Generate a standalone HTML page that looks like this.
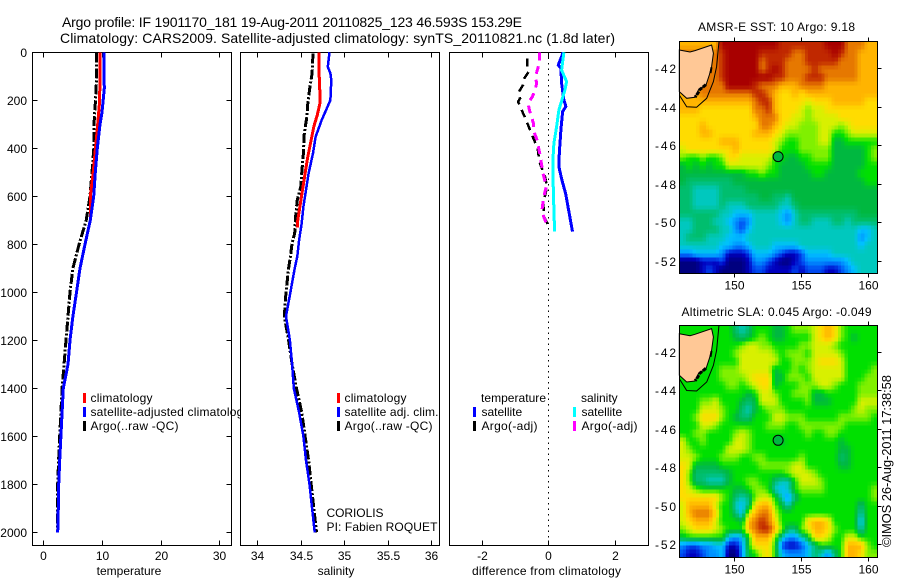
<!DOCTYPE html>
<html>
<head>
<meta charset="utf-8">
<title>Argo profile</title>
<style>
html,body{margin:0;padding:0;background:#fff;}
svg{display:block;}
text{font-family:"Liberation Sans",sans-serif;font-size:12px;fill:#000;}
.ttl{font-size:14px;}
.frame{fill:#fff;stroke:#000;stroke-width:1;shape-rendering:crispEdges;}
.noFill{fill:none;stroke:#000;stroke-width:1.2;shape-rendering:crispEdges;}
</style>
</head>
<body>
<svg id="chart" xmlns="http://www.w3.org/2000/svg" width="900" height="580" viewBox="0 0 900 580">
<defs>
<clipPath id="clipSst"><rect x="679.5" y="41.5" width="198" height="232"/></clipPath>
<clipPath id="clipSla"><rect x="679.5" y="325.5" width="198" height="232"/></clipPath>
</defs>
<text class="ttl" x="62" y="27" textLength="460">Argo profile: IF 1901170_181 19-Aug-2011 20110825_123 46.593S 153.29E</text>
<text class="ttl" x="60" y="43" textLength="555">Climatology: CARS2009. Satellite-adjusted climatology: synTS_20110821.nc (1.8d later)</text>

<g id="p1">
<rect class="frame" x="32.5" y="52.5" width="199" height="493"/>
<g id="p1marks"></g>
<rect x="83" y="393" width="3" height="10" fill="#ff0000"/>
<rect x="83" y="407" width="3" height="10" fill="#0000ff"/>
<rect x="83" y="421" width="3" height="10" fill="#000"/>
<text x="90.5" y="402" textLength="62">climatology</text>
<text x="90.5" y="416" textLength="159">satellite-adjusted climatology</text>
<text x="90.5" y="430" textLength="88">Argo(..raw -QC)</text>
<text x="129" y="575" text-anchor="middle">temperature</text>
</g>

<g id="p2">
<rect class="frame" x="240.5" y="52.5" width="199" height="493"/>
<g id="p2marks"></g>
<rect x="337" y="393" width="3" height="10" fill="#ff0000"/>
<rect x="337" y="407" width="3" height="10" fill="#0000ff"/>
<rect x="337" y="421" width="3" height="10" fill="#000"/>
<text x="344.5" y="402" textLength="62">climatology</text>
<text x="344.5" y="416" textLength="94">satellite adj. clim.</text>
<text x="344.5" y="430" textLength="88">Argo(..raw -QC)</text>
<text x="326.5" y="517" textLength="57">CORIOLIS</text>
<text x="326.5" y="531" textLength="111">PI: Fabien ROQUET</text>
<text x="336" y="575" text-anchor="middle">salinity</text>
</g>

<g id="p3">
<rect class="frame" x="449.5" y="52.5" width="199" height="493"/>
<g id="p3marks"></g>
<text x="481" y="402" textLength="65">temperature</text>
<text x="581" y="402">salinity</text>
<rect x="473" y="407" width="3" height="10" fill="#0000ff"/>
<rect x="473" y="421" width="3" height="10" fill="#000"/>
<rect x="573" y="407" width="3" height="10" fill="#00ffff"/>
<rect x="573" y="421" width="3" height="10" fill="#ff00ff"/>
<text x="481.5" y="416">satellite</text>
<text x="481.5" y="430" textLength="56">Argo(-adj)</text>
<text x="581.5" y="416">satellite</text>
<text x="581.5" y="430" textLength="56">Argo(-adj)</text>
<text x="472" y="575" textLength="149">difference from climatology</text>
</g>

<text x="698" y="31" textLength="157">AMSR-E SST: 10 Argo: 9.18</text>
<g id="m1"></g>
<text x="681.5" y="316" textLength="190">Altimetric SLA: 0.045 Argo: -0.049</text>
<g id="m2"></g>
<text transform="translate(891,547) rotate(-90)" textLength="172" style="font-size:13px">©IMOS 26-Aug-2011 17:38:58</text>
</svg>

<script>
// ---------- profile data ----------
const tempTicks = [0, 10, 20, 30];
const salTicks = [34, 34.5, 35, 35.5, 36];
const salTickLabels = ['34', '34.5', '35', '35.5', '36'];
const diffTicks = [-2, 0, 2];
const depthTicks = [0, 200, 400, 600, 800, 1000, 1200, 1400, 1600, 1800, 2000];

const tempClimDepth = [0, 200, 300, 400, 500, 600, 700, 800, 900, 1000, 1100, 1200, 1300, 1400];
const tempClimValue = [9.66, 9.6, 9.27, 8.9, 8.5, 8.0, 8.0, 7.1, 6.25, 5.65, 5.05, 4.55, 4.2, 3.4];
const tempSatDepth = [0, 150, 250, 300, 400, 500, 600, 700, 800, 900, 1000, 1100, 1200, 1300, 1400, 1500, 1600, 1700, 1800, 1900, 2000];
const tempSatValue = [10.3, 10.4, 10.0, 9.66, 9.2, 8.86, 8.58, 8.0, 7.1, 6.25, 5.65, 5.05, 4.55, 4.2, 3.4, 3.2, 3.0, 2.8, 2.62, 2.55, 2.45];
const tempArgoDepth = [0, 100, 200, 300, 400, 500, 600, 700, 800, 900, 1000, 1100, 1200, 1400, 1500, 1600, 1700, 1800, 1900, 2000];
const tempArgoValue = [9.1, 9.1, 8.9, 8.64, 8.6, 8.3, 7.96, 7.3, 6.1, 5.05, 4.55, 4.2, 3.87, 3.2, 3.0, 2.8, 2.6, 2.45, 2.4, 2.4];

const salClimDepth = [0, 88, 171, 213, 261, 310, 365, 435, 504, 574, 643, 712, 730];
const salClimValue = [34.71, 34.71, 34.72, 34.72, 34.69, 34.65, 34.62, 34.58, 34.55, 34.52, 34.49, 34.46, 34.46];
const salSatDepth = [0, 60, 88, 116, 199, 233, 282, 352, 421, 504, 574, 643, 712, 782, 851, 900, 1000, 1100, 1200, 1300, 1400, 1500, 1600, 1700, 1800, 1900, 2000];
const salSatValue = [34.83, 34.81, 34.84, 34.85, 34.84, 34.8, 34.74, 34.67, 34.64, 34.59, 34.56, 34.53, 34.51, 34.48, 34.46, 34.43, 34.38, 34.33, 34.375, 34.4, 34.42, 34.48, 34.53, 34.56, 34.6, 34.63, 34.66];
const salArgoDepth = [5, 88, 157, 213, 268, 337, 421, 504, 560, 615, 685, 754, 795, 851, 900, 1000, 1100, 1200, 1300, 1400, 1500, 1600, 1700, 1800, 1900, 2000];
const salArgoValue = [34.64, 34.63, 34.6, 34.58, 34.57, 34.54, 34.53, 34.51, 34.5, 34.46, 34.44, 34.43, 34.4, 34.38, 34.36, 34.33, 34.31, 34.36, 34.4, 34.45, 34.51, 34.55, 34.59, 34.62, 34.65, 34.68];

const diffTempSatDepth = [0, 53, 67, 129, 199, 226, 247, 324, 421, 477, 532, 588, 671, 747];
const diffTempSatValue = [0.45, 0.3, 0.38, 0.4, 0.47, 0.53, 0.43, 0.38, 0.33, 0.32, 0.41, 0.52, 0.63, 0.73];
const diffSalSatDepth = [0, 74, 122, 157, 199, 240, 310, 379, 449, 574, 747];
const diffSalSatValue = [0.47, 0.4, 0.55, 0.5, 0.41, 0.32, 0.25, 0.17, 0.14, 0.15, 0.19];
const diffTempArgoDepth = [25, 60, 81, 108, 136, 168, 192, 206, 226, 282, 345, 400, 455, 518, 560, 629, 685, 727];
const diffTempArgoValue = [-0.63, -0.63, -0.59, -0.72, -0.76, -0.9, -0.85, -0.91, -0.85, -0.67, -0.49, -0.32, -0.27, -0.1, -0.04, -0.15, -0.13, 0.02];
const diffSalArgoDepth = [0, 46, 74, 102, 129, 157, 185, 213, 240, 296, 331, 365, 421, 504, 560, 602, 657, 685, 727];
const diffSalArgoValue = [-0.27, -0.27, -0.33, -0.39, -0.35, -0.4, -0.48, -0.61, -0.57, -0.45, -0.43, -0.34, -0.26, -0.16, -0.06, -0.14, -0.19, -0.14, -0.02];

// ---------- map data ----------
const mapLonTicks = [150, 155, 160];
const mapLatTicks = [-42, -44, -46, -48, -50, -52];
const floatLon = 153.29;
const floatLat = -46.593;
const colourLevels = [[0,0,127],[0,0,191],[0,72,240],[0,144,255],[0,192,255],[0,200,190],[0,190,110],[0,184,64],[0,224,0],[128,240,0],[216,240,0],[255,220,0],[255,180,0],[230,120,0],[192,40,0],[168,0,0]];
const landLon = [145.92,146.72,147.09,148.33,148.46,148.33,148.16,147.91,147.34,147.09,146.47,145.92];
const landLat = [-41.05,-41.15,-41.08,-40.79,-41.22,-41.91,-42.35,-42.87,-43.13,-43.51,-43.56,-43.21];
const contourLon = [148.88,148.7,148.46,147.96,147.21,146.47,145.92];
const contourLat = [-40.6,-41.91,-42.69,-43.56,-44.03,-44.0,-43.39];
const shoreLon = [147.9,147.65,147.45,147.3,147.1];
const shoreLat = [-42.85,-43.0,-43.1,-43.3,-43.5];
const eastCapeLon = [148.32,148.25];
const eastCapeLat = [-41.95,-42.25];

const sstGrid = [
[12,12,12,12,12,12,15,15,15,15,15,15,15,15,15,14,14,14,14,14,14,14,15,15,15,13,13,13,12,12],
[13,13,13,13,13,13,14,15,15,15,15,15,14,14,14,14,14,13,13,14,14,14,14,15,14,13,13,12,12,12],
[13,13,13,13,13,13,14,15,15,15,15,15,13,14,14,14,13,13,13,14,14,14,14,14,13,13,13,12,12,12],
[13,13,13,13,13,13,14,15,15,15,15,15,13,14,15,14,13,13,13,13,14,13,13,13,13,13,13,12,12,12],
[13,13,13,13,13,13,14,15,15,15,15,15,15,15,14,14,13,13,13,14,14,14,13,13,13,13,13,12,12,12],
[13,13,13,13,13,13,13,15,15,15,15,14,13,13,13,12,12,12,13,13,13,13,12,12,12,12,12,12,12,12],
[12,12,12,13,13,13,13,13,13,13,13,14,14,13,12,11,11,12,11,12,12,12,12,12,12,12,12,12,12,12],
[12,12,12,12,12,12,12,12,12,12,12,13,14,14,12,11,11,11,11,10,11,11,11,12,12,12,12,12,11,11],
[12,12,12,11,11,11,11,11,11,11,11,13,13,14,12,11,11,11,10,9,10,10,11,11,11,11,11,11,11,11],
[11,11,11,11,11,11,11,11,11,11,11,12,13,13,13,11,11,10,10,9,10,10,10,10,11,11,11,11,11,11],
[11,11,11,12,11,11,11,11,11,11,11,11,13,13,12,11,10,10,9,9,9,10,10,10,9,10,11,11,11,11],
[11,11,11,12,12,11,11,11,11,11,11,12,12,12,11,10,9,9,9,9,9,10,10,8,8,9,10,10,10,10],
[11,11,11,11,11,11,12,12,12,11,11,11,11,11,10,9,8,8,9,9,9,10,10,7,7,8,8,8,8,8],
[10,11,11,11,11,11,11,11,12,11,11,11,11,11,10,8,8,8,9,9,9,9,9,7,7,7,7,7,8,9],
[9,8,8,9,8,8,9,11,11,10,10,10,10,10,8,8,7,7,8,8,9,9,9,7,7,7,7,7,8,9],
[7,8,7,8,7,8,8,10,10,10,10,10,10,9,8,7,7,7,7,8,8,8,8,7,7,7,7,7,8,8],
[7,7,7,7,7,7,7,7,7,7,8,8,9,8,8,7,7,7,7,7,8,8,7,7,7,7,7,8,8,8],
[7,6,6,6,6,6,6,6,7,7,7,7,7,7,7,7,7,7,7,7,7,7,7,7,7,7,7,7,8,8],
[6,6,5,5,5,5,6,6,6,6,7,7,7,7,7,7,7,7,7,7,7,7,7,7,7,7,7,7,7,7],
[6,6,5,5,5,5,6,6,6,6,6,6,7,7,6,6,5,7,7,7,7,7,7,7,7,7,7,7,7,7],
[6,6,5,5,5,5,6,5,5,5,6,6,6,6,6,5,5,6,7,7,7,7,7,7,7,7,7,7,7,7],
[6,6,6,6,6,6,5,5,4,4,4,5,5,5,5,4,3,5,6,6,6,6,6,6,6,6,6,7,7,7],
[5,5,6,6,6,5,5,4,3,2,3,5,5,5,5,4,3,5,6,6,5,5,5,6,6,5,6,6,6,6],
[5,5,6,6,6,6,5,5,3,2,4,5,5,5,5,5,5,5,5,5,5,5,5,5,5,5,5,4,4,5],
[5,6,6,6,5,5,5,4,4,4,5,5,5,5,5,5,5,5,5,5,5,5,5,5,5,5,5,3,4,5],
[5,5,5,5,5,5,4,4,3,3,4,5,5,5,4,4,4,4,5,5,5,5,5,5,5,5,5,4,5,5],
[3,3,4,4,4,4,3,1,1,1,2,4,4,4,3,2,1,1,2,4,4,4,4,5,5,5,5,5,5,5],
[0,0,0,1,1,1,2,0,0,0,1,3,3,2,1,0,0,1,2,3,3,3,3,3,3,4,5,5,5,5],
[0,0,0,1,2,1,0,0,0,0,1,2,2,1,1,1,1,2,1,2,2,2,1,1,2,3,4,5,5,5]
];

const slaGrid = [
[8,8,8,8,8,8,8,8,6,5,6,8,8,8,7,7,8,9,9,9,10,11,12,11,9,8,8,8,8,8],
[8,8,8,8,8,8,8,8,7,6,7,8,9,8,7,7,8,8,8,8,10,11,12,11,9,8,7,8,8,8],
[8,8,8,8,8,8,8,8,8,9,10,10,9,9,8,8,8,8,9,9,10,10,10,9,8,8,8,8,8,8],
[8,8,8,8,8,8,8,8,9,10,10,10,10,10,9,8,9,9,9,8,10,10,10,10,9,8,8,8,8,8],
[8,8,8,8,8,8,8,8,8,10,10,10,10,10,10,8,8,9,9,9,10,11,11,11,10,8,8,8,8,8],
[8,8,8,8,8,8,9,9,9,10,10,10,10,10,7,8,8,9,8,9,10,10,10,10,10,8,8,8,8,9],
[8,8,8,8,8,8,9,9,9,9,10,11,11,11,7,7,9,9,9,8,10,10,10,10,10,8,8,8,9,9],
[8,8,8,8,8,8,8,9,9,8,9,10,11,11,7,8,8,8,9,9,9,10,10,9,8,8,8,9,9,9],
[8,8,8,8,8,8,8,8,8,8,7,8,10,10,9,8,8,9,9,9,7,7,8,8,8,8,8,9,9,9],
[8,8,8,9,9,10,8,8,8,7,6,7,10,10,10,8,8,8,8,9,7,7,7,8,8,8,8,10,10,10],
[8,8,8,10,10,10,9,8,8,6,5,7,8,9,9,9,8,8,8,8,8,8,8,8,8,8,9,10,9,9],
[8,8,9,11,11,11,9,8,7,6,6,8,8,8,10,10,9,9,9,8,8,8,8,8,9,9,9,9,9,8],
[8,8,8,10,10,9,8,8,8,8,8,8,8,9,9,9,8,8,9,9,9,9,9,9,9,8,8,8,8,8],
[8,8,9,9,8,8,8,8,9,10,9,8,8,8,8,8,8,8,8,9,8,8,9,9,8,8,8,8,8,8],
[10,8,8,9,8,8,8,8,10,10,9,8,8,8,8,7,8,8,8,8,8,8,8,8,7,8,8,8,8,8],
[10,9,8,8,8,8,8,10,10,10,9,8,8,8,8,8,8,8,8,8,8,8,8,8,7,7,8,8,8,8],
[10,10,9,8,8,8,9,9,9,8,8,9,9,8,8,8,8,8,9,8,8,8,8,8,6,7,8,8,8,8],
[11,10,7,7,7,7,8,8,8,8,8,8,9,9,9,9,9,10,10,8,8,8,8,8,7,7,8,8,8,8],
[11,9,6,6,6,6,6,7,8,8,8,8,8,8,8,8,9,10,10,10,9,8,8,8,8,8,8,8,8,8],
[11,9,6,6,5,5,5,7,8,8,9,9,8,8,6,5,5,8,10,10,10,9,8,8,8,8,8,8,8,8],
[11,10,9,8,8,8,8,8,7,7,8,9,9,8,5,4,5,8,9,9,9,9,8,8,8,8,8,8,8,9],
[11,11,11,11,11,11,9,8,6,5,6,9,10,10,8,5,3,6,8,8,8,8,8,8,8,8,8,8,8,9],
[10,12,12,12,12,10,8,8,5,4,6,11,12,12,9,7,5,8,8,8,8,8,8,8,8,8,8,6,8,8],
[10,12,13,13,13,11,8,8,6,4,10,12,13,13,10,8,8,8,8,8,8,8,8,8,8,8,8,5,8,8],
[10,11,12,12,12,10,8,8,8,7,12,13,14,13,11,8,8,8,8,11,12,12,11,8,8,8,8,4,8,8],
[9,10,11,11,11,10,9,8,8,8,12,13,14,14,12,9,6,6,9,10,12,12,11,9,8,8,8,5,8,8],
[7,8,8,8,8,8,8,4,3,4,8,12,12,12,9,5,3,3,5,7,11,11,10,8,8,10,10,8,8,8],
[3,2,2,3,3,4,4,1,1,3,8,11,11,11,8,2,1,1,2,4,6,8,8,8,8,12,12,12,9,8],
[2,1,1,2,3,3,4,0,0,3,7,8,10,11,8,4,3,3,3,4,6,5,3,6,8,12,12,11,9,9]
];

// ---------- helpers ----------
const svgNS = 'http://www.w3.org/2000/svg';
const plotTop = 52.5;
const plotBottom = 545.5;
const yDepth = d => 52.3 + 0.24 * d;
const xTemp = v => 43.3 + 5.87 * v;
const xSal = v => 257.3 + 87 * (v - 34);
const xDiff = v => 548.3 + 33.2 * v;

function addTick(parent, x1, y1, x2, y2) {
  const el = document.createElementNS(svgNS, 'line');
  el.setAttribute('x1', x1);
  el.setAttribute('y1', y1);
  el.setAttribute('x2', x2);
  el.setAttribute('y2', y2);
  el.setAttribute('stroke', '#000');
  el.setAttribute('shape-rendering', 'crispEdges');
  
  
  parent.appendChild(el);
}
function addLabel(parent, x, y, anchor, str, name, len) {
  const el = document.createElementNS(svgNS, 'text');
  el.setAttribute('x', x);
  el.setAttribute('y', y);
  el.setAttribute('text-anchor', anchor);
  if (len) el.setAttribute('textLength', len);
  el.textContent = str;
  
  
  parent.appendChild(el);
}
function addCurve(parent, xs, ds, xFn, yFn, colour, width, dash, name) {
  const el = document.createElementNS(svgNS, 'polyline');
  el.setAttribute('points', xs.map((v, i) => xFn(v).toFixed(1) + ',' + yFn(ds[i]).toFixed(1)).join(' '));
  el.setAttribute('fill', 'none');
  el.setAttribute('stroke', colour);
  el.setAttribute('stroke-width', width);
  if (dash) el.setAttribute('stroke-dasharray', dash);
  el.setAttribute('shape-rendering', 'crispEdges');
  
  
  parent.appendChild(el);
}
function xAxis(parent, ticks, labels, xFn, top, bottom) {
  ticks.forEach((t, i) => {
    const x = Math.round(xFn(t)) + 0.5;
    addTick(parent, x, top, x, top + 5);
    addTick(parent, x, bottom, x, bottom - 5);
    addLabel(parent, x, bottom + 14.5, 'middle', labels[i], 'x-tick-label');
  });
}

// ---------- profile panels ----------
const p1 = document.getElementById('p1marks');
const p2 = document.getElementById('p2marks');
const p3 = document.getElementById('p3marks');

xAxis(p1, tempTicks, tempTicks.map(String), xTemp, plotTop, plotBottom);
depthTicks.forEach(d => {
  const y = Math.round(yDepth(d)) + 0.5;
  addTick(p1, 32.5, y, 37.5, y);
  addTick(p1, 231.5, y, 226.5, y);
  addLabel(p1, 27, y + 4.5, 'end', String(d), 'depth-tick-label');
});
addCurve(p1, tempArgoValue, tempArgoDepth, xTemp, yDepth, '#000', 3, '10 2 2 2', 'temperature-argo-line');
addCurve(p1, tempClimValue, tempClimDepth, xTemp, yDepth, '#ff0000', 3, '', 'temperature-climatology-line');
addCurve(p1, tempSatValue, tempSatDepth, xTemp, yDepth, '#0000ff', 3, '', 'temperature-satellite-line');

xAxis(p2, salTicks, salTickLabels, xSal, plotTop, plotBottom);
addCurve(p2, salArgoValue, salArgoDepth, xSal, yDepth, '#000', 3, '10 2 2 2', 'salinity-argo-line');
addCurve(p2, salClimValue, salClimDepth, xSal, yDepth, '#ff0000', 3, '', 'salinity-climatology-line');
addCurve(p2, salSatValue, salSatDepth, xSal, yDepth, '#0000ff', 2.5, '', 'salinity-satellite-line');

xAxis(p3, diffTicks, diffTicks.map(String), xDiff, plotTop, plotBottom);
addCurve(p3, [0, 0], [-1, 2050], xDiff, yDepth, '#000', 1, '1.5 4', 'zero-difference-line');
addCurve(p3, diffTempSatValue, diffTempSatDepth, xDiff, yDepth, '#0000ff', 3, '', 'difference-temperature-satellite-line');
addCurve(p3, diffSalSatValue, diffSalSatDepth, xDiff, yDepth, '#00ffff', 3, '', 'difference-salinity-satellite-line');
addCurve(p3, diffTempArgoValue, diffTempArgoDepth, xDiff, yDepth, '#000', 2.5, '8 6', 'difference-temperature-argo-line');
addCurve(p3, diffSalArgoValue, diffSalArgoDepth, xDiff, yDepth, '#ff00ff', 3, '8 6', 'difference-salinity-argo-line');

// ---------- maps ----------
const xLon = lon => 734 + (lon - 150) * 13.4;
const mapLeft = 679.5;
const mapWidth = 198;
const mapHeight = 232;
const cellSubdivision = 2;

function levelColour(v) {
  const i = Math.min(Math.floor(v), colourLevels.length - 2);
  const f = v - i;
  const a = colourLevels[i];
  const b = colourLevels[i + 1];
  return 'rgb(' + a.map((ch, k) => Math.round(ch + (b[k] - ch) * f)).join(',') + ')';
}
function gridValue(grid, rf, cf) {
  const r0 = Math.max(0, Math.min(grid.length - 1, Math.floor(rf)));
  const r1 = Math.min(grid.length - 1, r0 + 1);
  const c0 = Math.max(0, Math.min(grid[0].length - 1, Math.floor(cf)));
  const c1 = Math.min(grid[0].length - 1, c0 + 1);
  const fr = Math.max(0, Math.min(1, rf - r0));
  const fc = Math.max(0, Math.min(1, cf - c0));
  return (grid[r0][c0] * (1 - fc) + grid[r0][c1] * fc) * (1 - fr) + (grid[r1][c0] * (1 - fc) + grid[r1][c1] * fc) * fr;
}

function drawMap(parent, grid, mapTop, lat42Y, clipId, prefix) {
  const yLat = lat => lat42Y + (-42 - lat) * 19.23;
  const cells = document.createElementNS(svgNS, 'g');
  cells.setAttribute('clip-path', 'url(#' + clipId + ')');
  
  
  const nc = grid[0].length * cellSubdivision;
  const nr = grid.length * cellSubdivision;
  const cw = mapWidth / nc;
  const ch = mapHeight / nr;
  for (let r = 0; r < nr; r++) {
    for (let c = 0; c < nc; c++) {
      const v = gridValue(grid, (r + 0.5) / cellSubdivision - 0.5, (c + 0.5) / cellSubdivision - 0.5);
      const cell = document.createElementNS(svgNS, 'rect');
      cell.setAttribute('x', (mapLeft + c * cw).toFixed(2));
      cell.setAttribute('y', (mapTop + r * ch).toFixed(2));
      cell.setAttribute('width', (cw + 0.5).toFixed(2));
      cell.setAttribute('height', (ch + 0.5).toFixed(2));
      cell.setAttribute('fill', levelColour(v));
      cell.setAttribute('shape-rendering', 'crispEdges');
      
      
      cells.appendChild(cell);
    }
  }
  parent.appendChild(cells);

  const pts = (lons, lats) => lons.map((v, i) => xLon(v).toFixed(1) + ',' + yLat(lats[i]).toFixed(1)).join(' ');
  const land = document.createElementNS(svgNS, 'polygon');
  land.setAttribute('points', pts(landLon, landLat));
  land.setAttribute('fill', '#ffc896');
  land.setAttribute('stroke', '#000');
  land.setAttribute('stroke-width', '1');
  
  
  parent.appendChild(land);

  const shore = document.createElementNS(svgNS, 'polyline');
  shore.setAttribute('points', pts(shoreLon, shoreLat));
  shore.setAttribute('fill', 'none');
  shore.setAttribute('stroke', '#000');
  shore.setAttribute('stroke-width', '3');
  shore.setAttribute('stroke-dasharray', '4 1');
  
  
  parent.appendChild(shore);

  const cape = document.createElementNS(svgNS, 'polyline');
  cape.setAttribute('points', pts(eastCapeLon, eastCapeLat));
  cape.setAttribute('fill', 'none');
  cape.setAttribute('stroke', '#000');
  cape.setAttribute('stroke-width', '2');
  
  
  parent.appendChild(cape);

  const contour = document.createElementNS(svgNS, 'polyline');
  contour.setAttribute('points', pts(contourLon, contourLat));
  contour.setAttribute('fill', 'none');
  contour.setAttribute('stroke', '#000');
  contour.setAttribute('stroke-width', '1');
  
  
  parent.appendChild(contour);

  const marker = document.createElementNS(svgNS, 'circle');
  marker.setAttribute('cx', xLon(floatLon).toFixed(1));
  marker.setAttribute('cy', yLat(floatLat).toFixed(1));
  marker.setAttribute('r', '5');
  marker.setAttribute('fill', '#00b840');
  marker.setAttribute('stroke', '#000');
  
  
  parent.appendChild(marker);

  const frame = document.createElementNS(svgNS, 'rect');
  frame.setAttribute('x', mapLeft);
  frame.setAttribute('y', mapTop);
  frame.setAttribute('width', mapWidth);
  frame.setAttribute('height', mapHeight);
  frame.setAttribute('class', 'noFill');
  
  
  parent.appendChild(frame);

  mapLonTicks.forEach(lon => {
    const x = Math.round(xLon(lon)) + 0.5;
    addTick(parent, x, mapTop - 4, x, mapTop);
    addTick(parent, x, mapTop + mapHeight, x, mapTop + mapHeight + 4);
    addLabel(parent, x, mapTop + mapHeight + 16, 'middle', String(lon), 'longitude-tick-label');
  });
  mapLatTicks.forEach(lat => {
    const y = Math.round(yLat(lat)) + 0.5;
    addTick(parent, mapLeft + mapWidth, y, mapLeft + mapWidth + 4, y);
    addLabel(parent, 655, y + 4.5, 'start', String(lat), 'latitude-tick-label', 21);
  });
}

drawMap(document.getElementById('m1'), sstGrid, 41.5, 68.3, 'clipSst', 'sst');
drawMap(document.getElementById('m2'), slaGrid, 325.5, 352, 'clipSla', 'sla');
</script>
</body>
</html>
